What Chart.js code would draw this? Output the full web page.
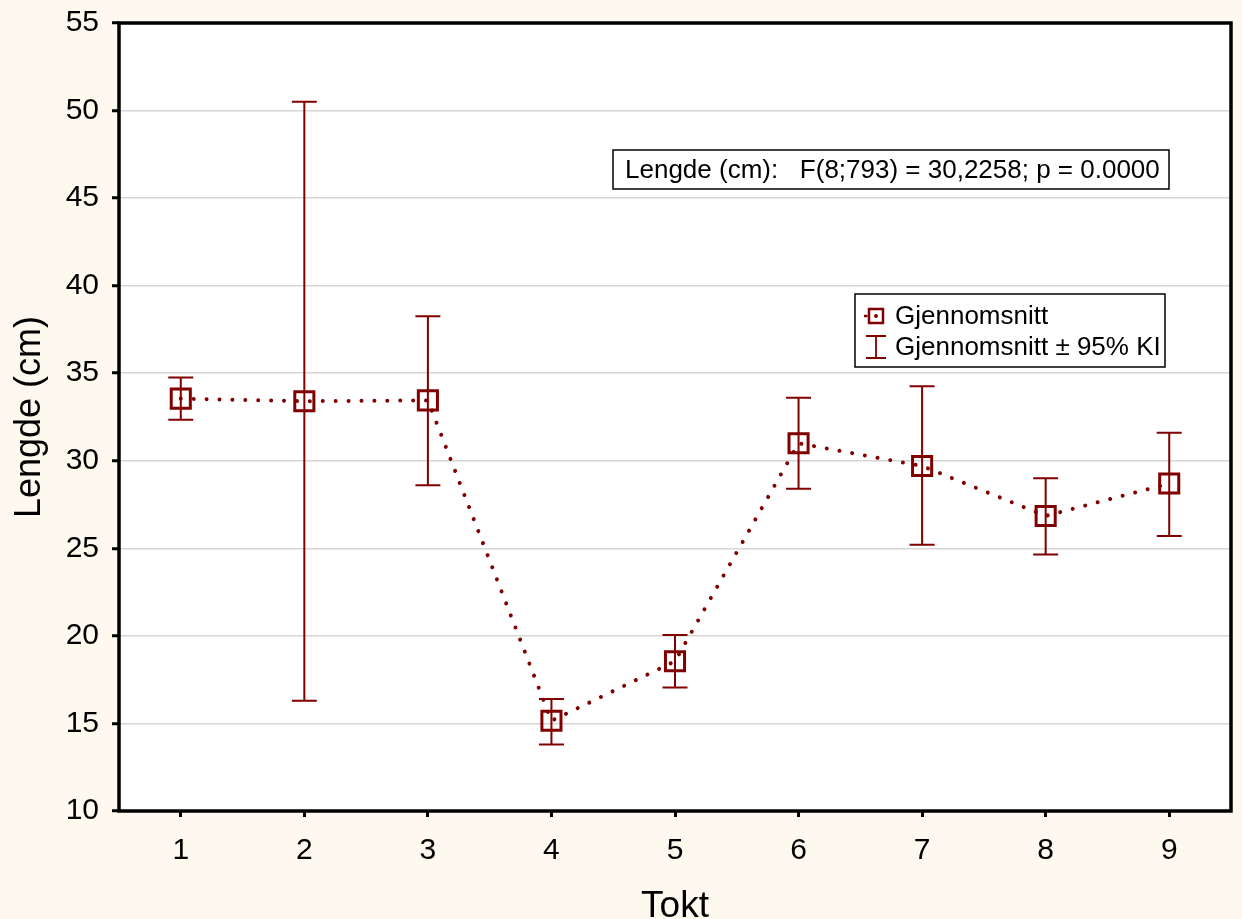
<!DOCTYPE html>
<html><head><meta charset="utf-8">
<script src="https://cdn.jsdelivr.net/npm/chart.js@4.4.0/dist/chart.umd.min.js"></script>
<style>html,body{margin:0;padding:0;background:#fdf9ee;} #wrap{width:1242px;height:919px;}</style>
</head><body><div id="wrap"><canvas id="c" width="1242" height="919"></canvas></div>
<script>
const categories = ['1','2','3','4','5','6','7','8','9'];
const meanValues = [33.55, 33.4, 33.45, 15.15, 18.55, 31.0, 29.7, 26.85, 28.7];
const upperCI = [34.75, 50.5, 38.25, 16.4, 20.05, 33.6, 34.25, 29.0, 31.6];
const lowerCI = [32.35, 16.3, 28.6, 13.8, 17.05, 28.4, 25.2, 24.65, 25.7];
const yTickValues = [10, 15, 20, 25, 30, 35, 40, 45, 50, 55];
const yAxisTitle = 'Lengde (cm)';
const xAxisTitle = 'Tokt';
const annotationText = 'Lengde (cm):   F(8;793) = 30,2258; p = 0.0000';
const legendLabels = ['Gjennomsnitt', 'Gjennomsnitt \u00b1 95% KI'];

const RED = '#800000';
const FONT = "'Liberation Sans', Arial, sans-serif";

const bgPlugin = {
  id: 'bg',
  beforeDraw(chart) {
    const {ctx, chartArea: a} = chart;
    ctx.save();
    ctx.fillStyle = '#fdf9ee';
    ctx.fillRect(0, 0, chart.width, chart.height);
    ctx.fillStyle = '#ffffff';
    ctx.fillRect(a.left, a.top, a.right - a.left, a.bottom - a.top);
    ctx.restore();
  }
};

const errorBars = {
  id: 'errorBars',
  beforeDatasetsDraw(chart) {
    const {ctx, scales: {x, y}} = chart;
    ctx.save();
    ctx.strokeStyle = RED;
    ctx.lineWidth = 2;
    categories.forEach((c, i) => {
      const px = x.getPixelForValue(i);
      const yu = y.getPixelForValue(upperCI[i]);
      const yl = y.getPixelForValue(lowerCI[i]);
      ctx.beginPath();
      ctx.moveTo(px, yu); ctx.lineTo(px, yl);
      ctx.moveTo(px - 12.5, yu); ctx.lineTo(px + 12.5, yu);
      ctx.moveTo(px - 12.5, yl); ctx.lineTo(px + 12.5, yl);
      ctx.stroke();
    });
    ctx.restore();
  }
};

const overlay = {
  id: 'overlay',
  afterDraw(chart) {
    const {ctx, chartArea: a} = chart;
    ctx.save();
    // frame
    ctx.strokeStyle = '#000';
    ctx.lineWidth = 3.5;
    ctx.strokeRect(a.left, a.top, a.right - a.left, a.bottom - a.top);

    // annotation box
    const bx = a.left + 494, by = a.top + 127, bw = 556, bh = 39;
    ctx.fillStyle = '#fff';
    ctx.fillRect(bx, by, bw, bh);
    ctx.lineWidth = 1.5;
    ctx.strokeRect(bx, by, bw, bh);
    ctx.fillStyle = '#000';
    ctx.font = '26px ' + FONT;
    ctx.textBaseline = 'middle';
    ctx.textAlign = 'left';
    ctx.fillText(annotationText, bx + 12, by + bh / 2 + 1);

    // legend box
    const lx = a.left + 736, ly = a.top + 271, lw = 310, lh = 73;
    ctx.fillStyle = '#fff';
    ctx.fillRect(lx, ly, lw, lh);
    ctx.strokeStyle = '#000';
    ctx.lineWidth = 1.5;
    ctx.strokeRect(lx, ly, lw, lh);
    const sx = lx + 21;
    const r1 = ly + 22, r2 = ly + 53;
    // marker symbol
    ctx.strokeStyle = RED;
    ctx.fillStyle = RED;
    ctx.lineWidth = 2.5;
    ctx.strokeRect(sx - 7, r1 - 7, 14, 14);
    ctx.beginPath(); ctx.arc(sx, r1, 2, 0, Math.PI * 2); ctx.fill();
    ctx.beginPath(); ctx.moveTo(sx - 12, r1); ctx.lineTo(sx - 8.5, r1); ctx.lineWidth = 2.5; ctx.stroke();
    // error bar symbol
    ctx.lineWidth = 1.8;
    ctx.beginPath();
    ctx.moveTo(sx, r2 - 11); ctx.lineTo(sx, r2 + 11);
    ctx.moveTo(sx - 10, r2 - 11); ctx.lineTo(sx + 10, r2 - 11);
    ctx.moveTo(sx - 10, r2 + 11); ctx.lineTo(sx + 10, r2 + 11);
    ctx.stroke();
    ctx.fillStyle = '#000';
    ctx.font = '26px ' + FONT;
    ctx.fillText(legendLabels[0], lx + 40, r1 + 1);
    ctx.fillText(legendLabels[1], lx + 40, r2 + 1);
    ctx.restore();
  }
};

new Chart(document.getElementById('c'), {
  type: 'line',
  data: {
    labels: categories,
    datasets: [{
      label: legendLabels[0],
      data: meanValues,
      borderColor: RED,
      borderWidth: 4,
      borderDash: [0.01, 12.9],
      borderCapStyle: 'round',
      tension: 0,
      fill: false,
      pointStyle: 'rect',
      pointRadius: 13.5,
      pointBorderWidth: 3,
      pointBorderColor: RED,
      pointBackgroundColor: 'rgba(0,0,0,0)'
    }]
  },
  options: {
    responsive: false,
    animation: false,
    events: [],
    layout: {autoPadding: false, padding: {top: 23, right: 11, left: 0, bottom: 0}},
    plugins: {legend: {display: false}, tooltip: {enabled: false}},
    scales: {
      x: {
        type: 'category',
        offset: true,
        afterFit(s) { s.height = 108; s.paddingLeft = 0; s.paddingRight = 0; },
        grid: {drawOnChartArea: false, tickColor: '#000', tickWidth: 3, tickLength: 6, offset: false},
        border: {display: false},
        ticks: {color: '#000', font: {family: FONT, size: 30}, padding: 16, maxRotation: 0},
        title: {display: true, text: xAxisTitle, color: '#000', font: {family: FONT, size: 37}, padding: {top: 0, bottom: -10}}
      },
      y: {
        min: 10, max: 55,
        afterFit(s) { s.width = 119; s.paddingTop = 0; s.paddingBottom = 0; },
        afterBuildTicks(s) { s.ticks = yTickValues.map(v => ({value: v})); },
        grid: {color: '#d6d6d6', lineWidth: 1.5, tickColor: '#000', tickWidth: 3, tickLength: 7},
        border: {display: false},
        ticks: {color: '#000', font: {family: FONT, size: 30}, padding: 13},
        title: {display: true, text: yAxisTitle, color: '#000', font: {family: FONT, size: 36}, padding: {top: 8, bottom: 0}}
      }
    }
  },
  plugins: [bgPlugin, errorBars, overlay]
});
</script></body></html>
